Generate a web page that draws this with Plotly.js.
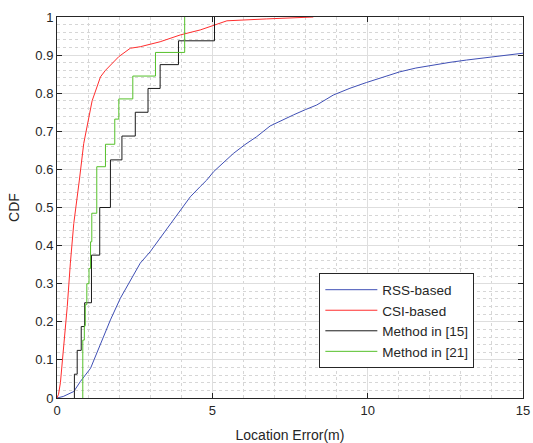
<!DOCTYPE html>
<html>
<head>
<meta charset="utf-8">
<script src="https://cdn.plot.ly/plotly-3.0.1.min.js"></script>
<style>html,body{margin:0;padding:0;background:#fff;}#chart{width:533px;height:443px;}</style>
</head>
<body>
<div id="chart"></div>
<script>
// RSS-based CDF
const rssX = [0,0.2,0.54,0.75,1.08,1.40,1.72,2.04,2.36,2.68,3.0,3.32,3.65,3.97,4.29,4.61,4.82,5.04,5.36,5.68,6.05,6.43,6.86,7.25,7.61,8.0,8.36,8.89,9.43,9.96,10.5,11.03,11.55,12.1,12.65,13.18,13.7,14.25,15];
const rssY = [0,0.004,0.017,0.043,0.078,0.144,0.205,0.262,0.31,0.354,0.384,0.419,0.458,0.493,0.528,0.555,0.572,0.594,0.619,0.642,0.665,0.686,0.714,0.730,0.743,0.757,0.769,0.795,0.813,0.828,0.843,0.856,0.866,0.874,0.881,0.887,0.892,0.898,0.905];
// CSI-based CDF
const csiX = [0,0.05,0.11,0.22,0.33,0.43,0.54,0.72,0.86,1.13,1.40,1.56,1.99,2.36,2.68,3.32,3.97,4.61,5.04,5.47,6.75,8.25];
const csiY = [0,0.01,0.04,0.135,0.24,0.354,0.458,0.572,0.668,0.78,0.843,0.86,0.896,0.918,0.922,0.935,0.953,0.966,0.979,0.99,0.995,1.0];
// Method in [15] (step CDF)
const m15X = [0.56,0.56,0.65,0.78,0.89,1.11,1.375,1.72,2.09,2.52,2.93,3.32,3.91,5.07];
const m15Y = [0,0.0625,0.125,0.1875,0.25,0.375,0.5,0.625,0.6875,0.75,0.8125,0.875,0.9375,1.0];
// Method in [21] (step CDF)
const m21X = [0.83,0.83,0.88,0.91,0.96,1.03,1.08,1.12,1.28,1.56,1.86,1.99,2.44,3.17,4.11];
const m21Y = [0,0.152,0.19,0.245,0.30,0.34,0.41,0.485,0.607,0.666,0.732,0.785,0.845,0.907,1.0];

const names = ["RSS-based","CSI-based","Method in [15]","Method in [21]"];
const xTicks = [0,5,10,15];
const yTicks = [0,0.1,0.2,0.3,0.4,0.5,0.6,0.7,0.8,0.9,1];

const traces = [
  {x: rssX, y: rssY, name: names[0], mode: "lines", line: {color: "#3f4fb5", width: 1}},
  {x: csiX, y: csiY, name: names[1], mode: "lines", line: {color: "#ff2d2d", width: 1}},
  {x: m15X, y: m15Y, name: names[2], mode: "lines", line: {color: "#1a1a1a", width: 1, shape: "hv"}},
  {x: m21X, y: m21Y, name: names[3], mode: "lines", line: {color: "#55c02a", width: 1, shape: "hv"}}
];

const axisCommon = {
  showline: true, mirror: "ticks", linecolor: "#262626", linewidth: 1,
  ticks: "inside", ticklen: 5, tickcolor: "#262626", tickwidth: 1,
  showgrid: true, gridcolor: "#dedede", gridwidth: 1,
  zeroline: false,
  tickfont: {family: "Liberation Sans, Arial, sans-serif", size: 13, color: "#262626"}
};

const layout = {
  width: 533, height: 443,
  margin: {l: 57, r: 10, t: 17, b: 45},
  paper_bgcolor: "#fff", plot_bgcolor: "#fff",
  font: {family: "Liberation Sans, Arial, sans-serif", color: "#262626"},
  xaxis: Object.assign({}, axisCommon, {
    range: [0, 15], tickvals: xTicks, ticktext: xTicks.map(String),
    minor: {dtick: 1, showgrid: true, gridcolor: "#d6d6d6", griddash: "dot", gridwidth: 1},
    title: {text: "Location Error(m)", font: {size: 14, color: "#262626"}, standoff: 13}
  }),
  yaxis: Object.assign({}, axisCommon, {
    range: [0, 1], tickvals: yTicks, ticktext: yTicks.map(String),
    minor: {dtick: 0.02, showgrid: true, gridcolor: "#d6d6d6", griddash: "dot", gridwidth: 1},
    title: {text: "CDF", font: {size: 14, color: "#262626"}, standoff: 12}
  }),
  showlegend: true,
  legend: {
    x: 0.563, y: 0.327, xanchor: "left", yanchor: "top",
    bgcolor: "#fff", bordercolor: "#262626", borderwidth: 1,
    font: {size: 13.5, color: "#262626"}, itemwidth: 52, tracegroupgap: 0
  }
};

Plotly.newPlot("chart", traces, layout, {staticPlot: true, displayModeBar: false});
</script>
</body>
</html>
